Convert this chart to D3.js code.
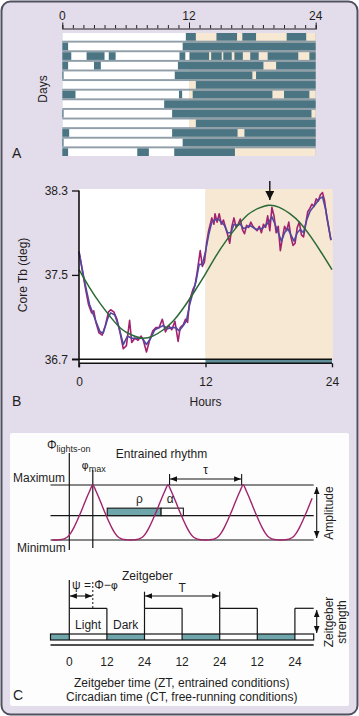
<!DOCTYPE html>
<html><head><meta charset="utf-8">
<script src="https://cdn.jsdelivr.net/npm/d3@7"></script>
<style>
body{margin:0;background:#fff}
svg{display:block}
text{font-family:"Liberation Sans",Arial,Helvetica,sans-serif;fill:#1e1e1e}
</style>
</head><body>
<svg id="chart" width="359" height="716"></svg>
<script>
// ---------------- DATA ----------------
// Panel A: actogram (activity bouts per day, in hours)
const actoTickLabels = [0, 12, 24];
const actoHourTicks = [0,1,2,3,4,5,6,7,8,9,10,11,12,13,14,15,16,17,18,19,20,21,22,23,24];
const lightsOffHour = 12;
const dayBouts = [
  [[11.7,12.65],[14.6,16.55],[17.05,18.35],[21.25,23.1]],
  [[0,0.55],[11.4,24]],
  [[0,0.85],[2.3,4.0],[4.4,5.05],[11.1,11.65],[12.05,13.9],[14.1,15.1],[15.25,16.05],[16.3,17.1],[17.8,18.6],[19.45,22.35],[23.4,24]],
  [[0,0.55],[3.0,3.65],[10.95,19.05],[20.25,24]],
  [[0,0.12],[10.65,18.0],[18.35,24]],
  [[12.65,24]],
  [[0,1.25],[11.05,11.35],[12.35,19.9],[21.0,23.4]],
  [[9.65,24]],
  [[0,0.12],[10.4,23.6]],
  [[12.65,24]],
  [[0,0.65],[10.4,16.6],[17.25,24]],
  [[0,0.12],[11.4,24]],
  [[0,0.55],[7.1,8.2],[10.6,16.35]]
];

// Panel B: core body temperature
const tempTicks = [36.7, 37.5, 38.3];
const hourTicksB = [0, 12, 24];
const peakArrowHour = 18.1;
const rawSeries = [
  [0,37.72],[0.3,37.55],[0.6,37.38],[0.9,37.22],[1.2,37.14],[1.4,37.16],[1.6,37.05],[1.9,36.95],
  [2.2,36.93],[2.5,37.02],[2.8,37.15],[3.0,37.17],[3.3,37.15],[3.6,37.08],[3.9,36.95],[4.2,36.80],
  [4.5,36.83],[4.8,37.07],[5.0,36.86],[5.3,36.90],[5.6,36.88],[5.9,36.92],[6.1,36.88],[6.4,36.77],
  [6.7,36.88],[7.0,36.97],[7.3,37.00],[7.6,37.00],[7.9,37.08],[8.2,36.96],[8.5,37.02],[8.8,36.98],
  [9.1,37.06],[9.4,36.87],[9.6,37.00],[9.9,37.03],[10.1,37.08],[10.3,37.05],[10.5,37.26],[10.8,37.36],
  [11.0,37.40],[11.2,37.52],[11.5,37.73],[11.7,37.58],[11.9,37.62],[12.1,37.80],[12.3,37.92],[12.6,38.04],
  [12.8,37.98],[12.9,38.08],[13.1,38.00],[13.3,38.08],[13.5,37.98],[13.7,38.02],[13.9,37.95],[14.1,37.88],
  [14.3,37.80],[14.5,37.96],[14.7,38.04],[14.9,37.95],[15.1,37.98],[15.3,38.03],[15.5,37.93],[15.7,37.89],
  [15.9,37.97],[16.1,37.95],[16.3,38.00],[16.5,37.96],[16.7,37.94],[16.9,37.92],[17.1,37.96],[17.3,37.90],
  [17.5,37.98],[17.7,37.95],[17.9,38.06],[18.1,37.92],[18.3,38.14],[18.5,38.06],[18.7,37.90],[18.9,37.96],
  [19.1,37.73],[19.3,37.85],[19.5,37.96],[19.7,37.92],[19.9,38.00],[20.1,37.86],[20.3,37.78],[20.5,37.80],
  [20.7,37.95],[20.9,38.00],[21.1,37.88],[21.3,37.86],[21.5,37.98],[21.7,38.10],[21.9,38.13],[22.1,38.17],
  [22.3,38.15],[22.5,38.22],[22.7,38.20],[22.9,38.26],[23.1,38.28],[23.3,38.20],[23.5,38.05],[23.9,37.83]
];
const smoothSeries = [
  [0,37.72],[0.5,37.45],[1.0,37.22],[1.3,37.14],[1.6,37.06],[2.0,36.96],[2.3,36.95],[2.7,37.08],
  [3.0,37.14],[3.4,37.12],[3.8,37.00],[4.2,36.84],[4.6,36.92],[5.0,36.90],[5.5,36.90],[6.0,36.90],
  [6.4,36.84],[6.8,36.90],[7.2,36.98],[7.6,37.00],[8.0,37.02],[8.4,36.99],[8.8,37.00],[9.2,37.00],
  [9.5,36.97],[9.9,37.02],[10.2,37.07],[10.5,37.22],[10.8,37.33],[11.1,37.44],[11.4,37.60],[11.7,37.60],
  [12.0,37.72],[12.3,37.88],[12.6,38.00],[12.9,38.02],[13.2,38.03],[13.5,38.00],[13.8,37.97],[14.1,37.90],
  [14.4,37.90],[14.7,37.98],[15.0,37.97],[15.3,37.98],[15.6,37.94],[15.9,37.95],[16.2,37.97],[16.5,37.95],
  [16.8,37.93],[17.1,37.94],[17.4,37.94],[17.7,37.97],[18.0,38.00],[18.3,38.05],[18.6,37.98],[18.9,37.90],
  [19.2,37.82],[19.5,37.90],[19.8,37.94],[20.1,37.88],[20.4,37.82],[20.7,37.90],[21.0,37.93],[21.3,37.90],
  [21.6,38.02],[21.9,38.10],[22.2,38.14],[22.5,38.18],[22.8,38.22],[23.1,38.24],[23.4,38.12],[23.9,37.83]
];
const fitSeries = [
  [0,37.55],[1,37.38],[2,37.23],[3,37.10],[4,36.99],[5,36.93],[6,36.90],[7,36.92],[8,36.98],
  [9,37.07],[10,37.20],[11,37.35],[12,37.51],[13,37.68],[14,37.83],[15,37.96],[16,38.07],
  [17,38.13],[18,38.16],[19,38.14],[20,38.08],[21,37.99],[22,37.86],[23,37.71],[24,37.55]
];

// Panel C: schematic of entrained rhythm and zeitgeber
const ztTicks = [0, 12, 24, 36, 48, 60, 72];
const ztTickLabels = ["0", "12", "24", "12", "24", "12", "24"];
const lightPeriods = [[0,12],[24,36],[48,60],[72,78]];
const darkPeriods = [[-6,0],[12,24],[36,48],[60,72]];
const rhythmPeaks = [-16.5, 7.5, 31.5, 55.5, 79.5];
const profileOffsets = [-12,-11,-10,-9,-8,-7,-6,-5,-4,-3,-2,-1,0,1,2,3,4,5,6,7,8,9,10,11];
const profileLevels  = [0,0.003,0.01,0.025,0.06,0.13,0.23,0.35,0.48,0.62,0.76,0.89,1,0.89,0.76,0.62,0.48,0.35,0.23,0.13,0.06,0.025,0.01,0.003];
const meanLevel = 0.47;
const restSpan = [12.1, 29.3];   // rho
const activeSpan = [29.3, 36.4]; // alpha
const tauSpan = [32, 55];
const psiSpan = [0, 7.5];
const periodSpan = [24, 48];

// ---------------- DRAW ----------------
const svg = d3.select("#chart");
const teal = "#4b7583", beige = "#f6e8d3", lav = "#e3dcea";

const defs = svg.append("defs");
defs.append("marker").attr("id","ah").attr("viewBox","0 0 10 10").attr("refX",10).attr("refY",5)
  .attr("markerWidth",7).attr("markerHeight",7).attr("markerUnits","userSpaceOnUse")
  .attr("orient","auto-start-reverse")
  .append("path").attr("d","M0,1 L10,5 L0,9 Z").attr("fill","#111");
defs.append("marker").attr("id","ahB").attr("viewBox","0 0 10 10").attr("refX",10).attr("refY",5)
  .attr("markerWidth",9).attr("markerHeight",9).attr("markerUnits","userSpaceOnUse")
  .attr("orient","auto-start-reverse")
  .append("path").attr("d","M0,0 L10,5 L0,10 Z").attr("fill","#111");

// background frame
svg.append("rect").attr("x",1.5).attr("y",1.5).attr("width",356).attr("height",713)
  .attr("rx",9).attr("fill",lav).attr("stroke","#505060").attr("stroke-width",2);

// ===== Panel A =====
const xA = d3.scaleLinear().domain([0,24]).range([62.3,315.7]);
const yA = d3.scaleBand().domain(d3.range(dayBouts.length)).range([33,156]).paddingInner(0.2);

const axA = svg.append("g").attr("transform","translate(0,28.5)")
  .call(d3.axisTop(xA).tickValues(actoHourTicks).tickSizeOuter(0)
    .tickSize(3.5).tickFormat(""));
axA.select(".domain").attr("stroke","#222").attr("stroke-width",1.2);
axA.selectAll(".tick line").attr("stroke","#222").attr("stroke-width",1)
  .attr("y2", d => actoTickLabels.includes(d) ? -6 : -3.5);
svg.append("g").selectAll("text").data(actoTickLabels).join("text")
  .attr("x", d => xA(d)).attr("y", 19.5).attr("text-anchor","middle")
  .attr("font-size",12).text(d => d);

svg.append("rect").attr("x",xA(0)).attr("y",yA(0)).attr("width",xA(24)-xA(0))
  .attr("height",yA(dayBouts.length-1)+yA.bandwidth()-yA(0)).attr("fill","#8f9ea8");

const rows = svg.append("g").selectAll("g").data(dayBouts).join("g")
  .attr("transform",(d,i)=>`translate(0,${yA(i)})`);
rows.append("rect").attr("x",xA(0)).attr("width",xA(lightsOffHour)-xA(0))
  .attr("height",yA.bandwidth()).attr("fill","#ffffff");
rows.append("rect").attr("x",xA(lightsOffHour)).attr("width",xA(24)-xA(lightsOffHour))
  .attr("height",yA.bandwidth()).attr("fill",beige);
rows.selectAll("rect.bout").data(d=>d).join("rect").attr("class","bout")
  .attr("x",d=>xA(d[0])).attr("width",d=>Math.max(1,xA(d[1])-xA(d[0])))
  .attr("height",yA.bandwidth()).attr("fill",teal);

svg.append("text").attr("transform","translate(47,89) rotate(-90)")
  .attr("text-anchor","middle").attr("font-size",12).text("Days");
svg.append("text").attr("x",12).attr("y",158).attr("font-size",14).text("A");

// ===== Panel B =====
const xB = d3.scaleLinear().domain([0,24]).range([79,332]);
const yB = d3.scaleLinear().domain([36.7,38.3]).range([359.3,190.5]);

svg.append("rect").attr("x",xB(0)).attr("y",189).attr("width",xB(12)-xB(0))
  .attr("height",yB(36.7)-189).attr("fill","#ffffff");
svg.append("rect").attr("x",xB(12)).attr("y",189).attr("width",xB(24)-xB(12)+0.7)
  .attr("height",yB(36.7)-189).attr("fill",beige);

// light/dark bar under the plot
const barTop = yB(36.7), barBot = yB(36.7)+4;
svg.append("rect").attr("x",xB(0)).attr("y",barTop).attr("width",xB(12)-xB(0)).attr("height",4).attr("fill","#fff");
svg.append("rect").attr("x",xB(12)).attr("y",barTop).attr("width",xB(24)-xB(12)).attr("height",4).attr("fill","#5f8e98");
svg.append("line").attr("x1",72).attr("x2",xB(24)).attr("y1",barTop).attr("y2",barTop)
  .attr("stroke","#111").attr("stroke-width",1.4);
svg.append("line").attr("x1",xB(0)).attr("x2",xB(24)).attr("y1",barBot).attr("y2",barBot)
  .attr("stroke","#111").attr("stroke-width",1.4);

const lineB = d3.line().x(d=>xB(d[0])).y(d=>yB(d[1]));
svg.append("path").attr("d",lineB(rawSeries)).attr("fill","none")
  .attr("stroke","#a3226f").attr("stroke-width",1.6).attr("stroke-linejoin","round");
svg.append("path").attr("d",lineB(smoothSeries)).attr("fill","none")
  .attr("stroke","#5148a0").attr("stroke-width",1.6).attr("stroke-linejoin","round");
svg.append("path").attr("d",d3.line().x(d=>xB(d[0])).y(d=>yB(d[1])).curve(d3.curveNatural)(fitSeries))
  .attr("fill","none").attr("stroke","#2b6a36").attr("stroke-width",1.5);

// axes
const axYB = svg.append("g").attr("transform",`translate(${xB(0)},0)`)
  .call(d3.axisLeft(yB).tickValues(tempTicks).tickSize(7).tickSizeOuter(0).tickPadding(4).tickFormat(d3.format(".1f")));
axYB.select(".domain").remove();
axYB.selectAll(".tick line").attr("stroke","#111").attr("stroke-width",1.3);
axYB.selectAll(".tick text").attr("font-size",12).attr("font-family",null).attr("fill","#1e1e1e");
svg.append("line").attr("x1",xB(0)).attr("x2",xB(0)).attr("y1",yB(38.3)).attr("y2",barBot+4)
  .attr("stroke","#111").attr("stroke-width",1.6);

const axXB = svg.append("g").attr("transform",`translate(0,${barBot})`)
  .call(d3.axisBottom(xB).tickValues(hourTicksB).tickSize(4).tickSizeOuter(0).tickPadding(10));
axXB.select(".domain").remove();
axXB.selectAll(".tick line").attr("stroke","#111").attr("stroke-width",1.3);
axXB.selectAll(".tick text").attr("font-size",12).attr("font-family",null).attr("fill","#1e1e1e");

svg.append("line").attr("x1",xB(peakArrowHour)).attr("x2",xB(peakArrowHour))
  .attr("y1",181).attr("y2",200).attr("stroke","#111").attr("stroke-width",1.4)
  .attr("marker-end","url(#ahB)");

svg.append("text").attr("transform",`translate(27,${yB(37.5)}) rotate(-90)`)
  .attr("text-anchor","middle").attr("font-size",12).text("Core Tb (deg)");
svg.append("text").attr("x",xB(12)).attr("y",406).attr("text-anchor","middle")
  .attr("font-size",12).text("Hours");
svg.append("text").attr("x",12).attr("y",406).attr("font-size",14).text("B");

// ===== Panel C =====
svg.append("rect").attr("x",10).attr("y",433).attr("width",339).attr("height",273)
  .attr("rx",2).attr("fill","#fdfdfd");

const xC = d3.scaleLinear().domain([-6,78]).range([50.5,313.7]);
const yC = d3.scaleLinear().domain([0,1]).range([540,485]);
const ink = "#151515";
const gC = svg.append("g");

function hline(x1,x2,y,w){gC.append("line").attr("x1",x1).attr("x2",x2).attr("y1",y).attr("y2",y).attr("stroke",ink).attr("stroke-width",w||1.2);}
function vline(x,y1,y2,w){gC.append("line").attr("x1",x).attr("x2",x).attr("y1",y1).attr("y2",y2).attr("stroke",ink).attr("stroke-width",w||1.2);}

// reference lines
hline(xC(-6),xC(78),yC(1));
hline(xC(-6),xC(78),yC(meanLevel)+1.5);
hline(xC(-6),xC(78),yC(0));
vline(xC(0),453,550);
vline(xC(psiSpan[1]),470,548);

// rho & alpha boxes
const boxTop = yC(meanLevel)-6, boxH = 7.5;
gC.append("rect").attr("x",xC(restSpan[0])).attr("y",boxTop).attr("width",xC(restSpan[1])-xC(restSpan[0]))
  .attr("height",boxH).attr("fill","#6ea6ac").attr("stroke",ink).attr("stroke-width",1.1);
gC.append("rect").attr("x",xC(activeSpan[0])).attr("y",boxTop).attr("width",xC(activeSpan[1])-xC(activeSpan[0]))
  .attr("height",boxH).attr("fill","#fff").attr("stroke",ink).attr("stroke-width",1.1);

// rhythm curve
const rhythmPts = [];
rhythmPeaks.forEach(p => profileOffsets.forEach((o,i) => {
  const t = p + o;
  if (t >= -5.5 && t <= 78.2) rhythmPts.push([t, profileLevels[i]]);
}));
rhythmPts.sort((a,b)=>a[0]-b[0]);
gC.append("path").attr("d",d3.line().x(d=>xC(d[0])).y(d=>yC(d[1])).curve(d3.curveCatmullRom.alpha(0.5))(rhythmPts))
  .attr("fill","none").attr("stroke","#a0226a").attr("stroke-width",1.4);

// tau arrow
vline(xC(tauSpan[0]),474,485,1.1); vline(xC(tauSpan[1]),474,485,1.1);
gC.append("line").attr("x1",xC(tauSpan[0])+0.5).attr("x2",xC(tauSpan[1])-0.5).attr("y1",479).attr("y2",479)
  .attr("stroke",ink).attr("stroke-width",1.1).attr("marker-start","url(#ah)").attr("marker-end","url(#ah)");

// amplitude arrow
gC.append("line").attr("x1",316.7).attr("x2",316.7).attr("y1",487).attr("y2",538)
  .attr("stroke",ink).attr("stroke-width",1.1).attr("marker-start","url(#ah)").attr("marker-end","url(#ah)");

// zeitgeber LD bar
const ldTop = 634, ldBot = 640, lightTop = 608.3;
darkPeriods.forEach(p => gC.append("rect").attr("x",xC(p[0])).attr("y",ldTop)
  .attr("width",xC(p[1])-xC(p[0])).attr("height",ldBot-ldTop).attr("fill","#6ea6ac"));
gC.append("rect").attr("x",xC(-6)).attr("y",ldTop).attr("width",xC(78)-xC(-6)).attr("height",ldBot-ldTop)
  .attr("fill","none").attr("stroke",ink).attr("stroke-width",1.2);
hline(xC(-6),xC(78),645,1.3);
lightPeriods.forEach(p => {
  hline(xC(p[0]),xC(p[1]),lightTop);
  vline(xC(p[0]),lightTop,ldBot);
  if (p[1] < 78) vline(xC(p[1]),lightTop,ldBot);
});
vline(xC(psiSpan[0]),580,lightTop);
vline(xC(periodSpan[0]),591.7,lightTop);
vline(xC(periodSpan[1]),591.7,lightTop);
gC.append("line").attr("x1",xC(psiSpan[1])).attr("x2",xC(psiSpan[1])).attr("y1",582).attr("y2",lightTop)
  .attr("stroke",ink).attr("stroke-width",1).attr("stroke-dasharray","2,2");
gC.append("line").attr("x1",xC(psiSpan[0])+0.6).attr("x2",xC(psiSpan[1])-0.6).attr("y1",596).attr("y2",596)
  .attr("stroke",ink).attr("stroke-width",1.1).attr("marker-start","url(#ah)").attr("marker-end","url(#ah)");
gC.append("line").attr("x1",xC(periodSpan[0])+0.6).attr("x2",xC(periodSpan[1])-0.6).attr("y1",596).attr("y2",596)
  .attr("stroke",ink).attr("stroke-width",1.1).attr("marker-start","url(#ah)").attr("marker-end","url(#ah)");
// zeitgeber strength arrow
gC.append("line").attr("x1",316.7).attr("x2",316.7).attr("y1",610).attr("y2",633)
  .attr("stroke",ink).attr("stroke-width",1.1).attr("marker-start","url(#ah)").attr("marker-end","url(#ah)");

// ZT tick labels
gC.selectAll("text.zt").data(ztTicks).join("text").attr("class","zt")
  .attr("x",d=>xC(d)).attr("y",666).attr("text-anchor","middle").attr("font-size",12)
  .text((d,i)=>ztTickLabels[i]);

// labels panel C
const t = (x,y,s,opt={}) => gC.append("text").attr("x",x).attr("y",y).attr("font-size",opt.fs||12)
  .attr("text-anchor",opt.anchor||"start").text(s);
const phiL = gC.append("text").attr("x",47).attr("y",449).attr("font-size",12);
phiL.append("tspan").text("Φ");
phiL.append("tspan").attr("font-size",9).attr("dy",3).text("lights-on");
t(161.5,457.5,"Entrained rhythm",{anchor:"middle"});
const phiM = gC.append("text").attr("x",81.5).attr("y",469).attr("font-size",12);
phiM.append("tspan").attr("font-family","DejaVu Sans").attr("font-size",11).text("φ");
phiM.append("tspan").attr("font-size",9).attr("dy",3).text("max");
t(13,481.5,"Maximum");
t(17,551.5,"Minimum");
t(xC(22.4),503,"ρ",{anchor:"middle"});
t(xC(32.2),503,"α",{anchor:"middle"});
t(xC(43.5),474,"τ",{anchor:"middle"});
t(122,579.5,"Zeitgeber");
const psiL = gC.append("text").attr("x",72).attr("y",589).attr("font-size",12);
psiL.append("tspan").text("ψ = Φ−");
psiL.append("tspan").attr("font-family","DejaVu Sans").attr("font-size",11).text("φ");
t(xC(36),592,"T",{anchor:"middle"});
t(xC(6),629,"Light",{anchor:"middle"});
t(xC(18),629,"Dark",{anchor:"middle"});
gC.append("text").attr("transform","translate(333,513) rotate(-90)").attr("text-anchor","middle")
  .attr("font-size",12).text("Amplitude");
gC.append("text").attr("transform","translate(333,622) rotate(-90)").attr("text-anchor","middle")
  .attr("font-size",12).text("Zeitgeber");
gC.append("text").attr("transform","translate(346,622) rotate(-90)").attr("text-anchor","middle")
  .attr("font-size",12).text("strength");
t(181.7,687,"Zeitgeber time (ZT, entrained conditions)",{anchor:"middle"});
t(181.7,701,"Circadian time (CT, free-running conditions)",{anchor:"middle"});
t(13,700,"C",{fs:14});
</script>
</body></html>
